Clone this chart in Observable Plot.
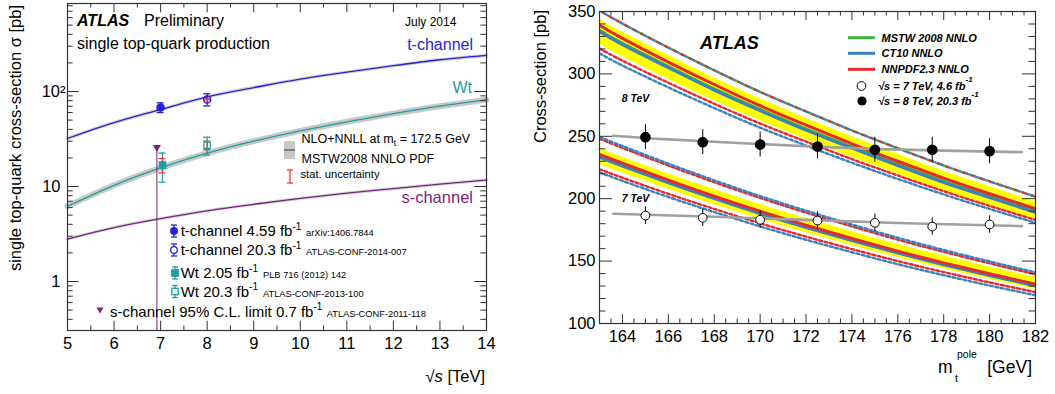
<!DOCTYPE html>
<html><head><meta charset="utf-8">
<script src="https://cdn.jsdelivr.net/npm/d3@7"></script>
<script src="https://cdn.jsdelivr.net/npm/@observablehq/plot@0.6"></script>
<style>
body{margin:0;background:#fff;}
#wrap{position:relative;width:1055px;height:394px;overflow:hidden;background:#fff;}
#left{position:absolute;left:0;top:0;}
#right{position:absolute;left:520px;top:0;}
</style></head><body><div id="wrap"><div id="left"></div><div id="right"></div></div>
<script>
// ---------------- LEFT PANEL DATA ----------------
const energies = [5, 6, 7, 8, 9, 10, 11, 12, 13, 14];
const tChannelTheory = [32, 47, 64.6, 87.8, 110, 135, 160, 187, 216, 240];
const wtTheory = [6.2, 10.3, 15.7, 22.4, 30, 38.5, 48, 58.5, 70, 82];
const sChannelTheory = [2.8, 3.7, 4.6, 5.55, 6.5, 7.5, 8.5, 9.5, 10.6, 11.7];

const measNames = ["t-channel 4.59 fb-1", "t-channel 20.3 fb-1", "Wt 2.05 fb-1", "Wt 20.3 fb-1"];
const measEnergy = [7.0, 8.0, 7.04, 8.0];
const measXsec = [68, 82.6, 16.8, 27.2];
const measTotLo = [60, 70.6, 11.1, 21.4];
const measTotHi = [76, 94.6, 22.5, 33.0];
const measStatLo = [66, 81.4, 13.9, 24.4];
const measStatHi = [70, 83.8, 19.7, 30.0];
const sLimitEnergy = 6.92;
const sLimitXsec = 26.5;

const xMajorL = [5, 6, 7, 8, 9, 10, 11, 12, 13, 14];
const xMinorL = [5.5, 6.5, 7.5, 8.5, 9.5, 10.5, 11.5, 12.5, 13.5];
const yMajorL = [1, 10, 100];
const yMinorL = [0.4,0.5,0.6,0.7,0.8,0.9,2,3,4,5,6,7,8,9,20,30,40,50,60,70,80,90,200,300,400,500,600,700,800];
const yDomL = [0.305, 844];

// ---------------- RIGHT PANEL DATA ----------------
const massGrid = [163, 164, 166, 168, 170, 172, 174, 176, 178, 180, 182];
const nnpdf8 = [339, 328.5, 309.5, 291.5, 274.5, 259, 244, 230, 216.5, 204, 192];
const ct10_8 = [334, 323.5, 305, 287, 270.5, 255, 240.5, 226.5, 213, 201, 189];
const mstw8 = [335, 324.5, 306, 288, 271.5, 256, 241.5, 227.5, 214, 202, 190];
const scale8Lo = [324, 313.8, 295.9, 278.4, 262.4, 247.4, 233.3, 219.7, 206.6, 195, 183.3];
const scale8Hi = [344, 333.5, 314.9, 296.7, 280.1, 264.5, 249.8, 235.6, 221.9, 209.7, 197.5];
const pdf8Up = [350.9, 340.3, 321.1, 302.9, 285.6, 269.9, 254.7, 240.4, 226.6, 213.9, 201.6];
const nnpdf8Down = [320.4, 310.6, 292.9, 276.1, 260.2, 245.7, 231.7, 218.6, 206.0, 194.2, 183.0];
const ct10_8Down = [316.5, 306.7, 289.2, 272.6, 256.9, 242.6, 228.8, 215.8, 203.4, 191.8, 180.7];

const nnpdf7 = [235.6, 228.5, 214.9, 202.1, 190.0, 178.7, 168.1, 158.0, 148.6, 139.8, 131.5];
const ct10_7 = [233.2, 226.2, 212.8, 200.1, 188.1, 176.9, 166.4, 156.4, 147.1, 138.4, 130.2];
const mstw7 = [233.7, 226.7, 213.3, 200.6, 188.6, 177.4, 166.9, 156.9, 147.6, 138.9, 130.7];
const scale7Lo = [227.4, 220.5, 207.5, 195.2, 183.6, 172.8, 162.6, 152.9, 143.9, 135.4, 127.4];
const scale7Hi = [240.3, 233.3, 219.9, 207.3, 195.3, 184.1, 173.6, 163.5, 154.2, 145.3, 137.0];
const nnpdf7Up = [248.1, 240.7, 226.6, 213.2, 200.6, 188.9, 177.8, 167.2, 157.4, 148.2, 139.5];
const ct10_7Up = [249.6, 242.2, 228.1, 214.7, 202.1, 190.4, 179.3, 168.7, 158.9, 149.7, 141.0];
const nnpdf7Down = [223.6, 216.8, 203.9, 191.8, 180.3, 169.6, 159.6, 150.0, 141.2, 132.9, 125.1];
const ct10_7Down = [221.1, 214.3, 201.4, 189.3, 177.8, 167.1, 157.1, 147.5, 138.7, 130.4, 122.6];

const massPoints = [165, 167.5, 170, 172.5, 175, 177.5, 180];
const xsec8 = [249.3, 245.3, 243.4, 241.8, 239.2, 239.2, 238.1];
const err8 = [10, 10, 10, 10, 10, 10, 10];
const xsec7 = [186.5, 184.7, 183.1, 182.5, 180.7, 177.7, 179.3];
const err7 = [7, 7, 7, 7, 7, 7, 7];
const fitMass8 = [163.6, 166, 170, 174, 178, 181.4];
const fit8 = [250.5, 247.5, 243.8, 240.5, 238.5, 237.3];
const fitMass7 = [163.6, 168, 172, 176, 181.4];
const fit7 = [188, 185.5, 183, 180.5, 178];

const xMajorR = [164, 166, 168, 170, 172, 174, 176, 178, 180, 182];
const yMajorR = [100, 150, 200, 250, 300, 350];

// ---------------- STYLE ----------------
const FONT = "Liberation Sans, Arial, Helvetica, sans-serif";
const BLUE = "#2424d4", TEAL = "#1f9f9f", PURPLE = "#7a1f86", STATRED = "#f03c3c";
const YEL = "#ffff00", GRN = "#3cb43c", CBLUE = "#3a80c2", NRED = "#e32b2b";
const FR = "#333";

function label(svg, x, y, parts, o = {}) {
  const t = d3.select(svg).append("text")
    .attr("x", x).attr("y", y)
    .attr("font-family", FONT)
    .attr("font-size", o.size ?? 16)
    .attr("fill", o.fill ?? "#000")
    .attr("text-anchor", o.anchor ?? "start")
    .attr("font-weight", o.bold ? "bold" : "normal")
    .attr("font-style", o.italic ? "italic" : "normal");
  if (o.rotate) t.attr("transform", `rotate(${o.rotate} ${x} ${y})`);
  for (const p of [].concat(parts)) {
    const s = t.append("tspan");
    if (typeof p === "string") s.text(p);
    else {
      s.text(p.t);
      if (p.dy != null) s.attr("dy", p.dy);
      if (p.dx != null) s.attr("dx", p.dx);
      if (p.size) s.attr("font-size", p.size);
      if (p.italic) s.attr("font-style", "italic");
    }
  }
  return t;
}

// ---------------- LEFT PLOT ----------------
const WL = 520, HL = 394, mlL = 67, mrL = 34, mtL = 3, mbL = 64;
const FWL = WL - mlL - mrL, FHL = HL - mtL - mbL;
const meas = measEnergy.map((x, i) => ({x, v: measXsec[i], lo: measTotLo[i], hi: measTotHi[i], slo: measStatLo[i], shi: measStatHi[i], name: measNames[i]}));
const mColor = d => (d.name.startsWith("t-") ? BLUE : TEAL);

const leftPlot = Plot.plot({
  width: WL, height: HL,
  marginLeft: mlL, marginRight: mrL, marginTop: mtL, marginBottom: mbL,
  x: {domain: [5, 14]},
  y: {type: "log", domain: yDomL},
  style: {fontFamily: FONT, fontSize: "16.5px", color: "#000", background: "transparent"},
  marks: [
    Plot.lineY(tChannelTheory, {x: energies, stroke: "#d2d2d2", strokeWidth: 3.5, curve: "natural"}),
    Plot.lineY(wtTheory, {x: energies, stroke: "#c8c8c8", strokeWidth: 6, curve: "natural"}),
    Plot.lineY(sChannelTheory, {x: energies, stroke: "#d6d6d6", strokeWidth: 3.2, curve: "natural"}),
    Plot.lineY(tChannelTheory, {x: energies, stroke: BLUE, strokeWidth: 1.3, curve: "natural"}),
    Plot.lineY(wtTheory, {x: energies, stroke: TEAL, strokeWidth: 1.3, curve: "natural"}),
    Plot.lineY(sChannelTheory, {x: energies, stroke: PURPLE, strokeWidth: 1.3, curve: "natural"}),
    Plot.ruleX([0], {x: [sLimitEnergy], y1: [sLimitXsec], y2: [yDomL[0]], stroke: PURPLE, strokeWidth: 1}),
    Plot.dot([0], {x: [sLimitEnergy], y: [sLimitXsec], symbol: "triangle", rotate: 180, fill: PURPLE, r: 3, dy: 1}),
    Plot.ruleX(meas, {x: "x", y1: "lo", y2: "hi", stroke: mColor, strokeWidth: 1.3}),
    Plot.ruleY(meas, {y: "lo", x1: "x", x2: "x", insetLeft: -3.5, insetRight: -3.5, stroke: mColor, strokeWidth: 1.3}),
    Plot.ruleY(meas, {y: "hi", x1: "x", x2: "x", insetLeft: -3.5, insetRight: -3.5, stroke: mColor, strokeWidth: 1.3}),
    Plot.ruleX(meas, {x: "x", y1: "slo", y2: "shi", stroke: STATRED, strokeWidth: 1.3}),
    Plot.ruleY(meas, {y: "slo", x1: "x", x2: "x", insetLeft: -3.5, insetRight: -3.5, stroke: STATRED, strokeWidth: 1.3}),
    Plot.ruleY(meas, {y: "shi", x1: "x", x2: "x", insetLeft: -3.5, insetRight: -3.5, stroke: STATRED, strokeWidth: 1.3}),
    Plot.dot(meas, {x: "x", y: "v", r: 3.6,
      symbol: d => (d.name.startsWith("t-") ? "circle" : "square"),
      fill: d => (d.name.includes("20.3") ? "none" : mColor(d)),
      stroke: mColor, strokeWidth: 1.3}),
    Plot.ruleX(xMajorL, {insetTop: FHL - 9.3, stroke: FR}),
    Plot.ruleX(xMinorL, {insetTop: FHL - 4.5, stroke: FR}),
    Plot.ruleX(xMajorL, {insetBottom: FHL - 9.3, stroke: FR}),
    Plot.ruleX(xMinorL, {insetBottom: FHL - 4.5, stroke: FR}),
    Plot.ruleY(yMajorL, {insetRight: FWL - 11.7, stroke: FR}),
    Plot.ruleY(yMinorL, {insetRight: FWL - 5.7, stroke: FR}),
    Plot.ruleY(yMajorL, {insetLeft: FWL - 11.7, stroke: FR}),
    Plot.ruleY(yMinorL, {insetLeft: FWL - 5.7, stroke: FR}),
    Plot.frame({stroke: FR, strokeWidth: 1.2}),
    Plot.axisX(xMajorL, {tickSize: 0, tickPadding: 7, label: null, fontSize: 16.5}),
    Plot.axisY([1, 10], {tickSize: 0, tickPadding: 7, label: null, fontSize: 16.5, tickFormat: d => String(d)}),
    Plot.axisY([100], {tickSize: 0, tickPadding: 2, label: null, fontSize: 16.5, tickFormat: () => "10²"})
  ]
});
document.getElementById("left").appendChild(leftPlot);

label(leftPlot, 77, 26, "ATLAS", {size: 16, bold: true, italic: true});
label(leftPlot, 144, 26, "Preliminary", {size: 16});
label(leftPlot, 405, 26, "July 2014", {size: 12});
label(leftPlot, 77, 49, "single top-quark production", {size: 16});
label(leftPlot, 473, 50, "t-channel", {size: 16, fill: BLUE, anchor: "end"});
label(leftPlot, 472, 93, "Wt", {size: 16, fill: TEAL, anchor: "end"});
label(leftPlot, 473, 203, "s-channel", {size: 16.5, fill: PURPLE, anchor: "end"});
label(leftPlot, 301.5, 143.3, ["NLO+NNLL at m", {t: "t", dy: 3, size: 8.5}, {t: " = 172.5 GeV", dy: -3}], {size: 12.5});
label(leftPlot, 301.5, 162.7, "MSTW2008 NNLO PDF", {size: 12.5});
label(leftPlot, 300.5, 178.3, "stat. uncertainty", {size: 11.2});
const legL = [
  {y: 236, main: "t-channel 4.59 fb", ref: "arXiv:1406.7844", refX: 306},
  {y: 255, main: "t-channel 20.3 fb", ref: "ATLAS-CONF-2014-007", refX: 306},
  {y: 278.3, main: "Wt 2.05 fb", ref: "PLB 716 (2012) 142", refX: 263},
  {y: 296.7, main: "Wt 20.3 fb", ref: "ATLAS-CONF-2013-100", refX: 263}
];
for (const e of legL) {
  label(leftPlot, 180.7, e.y, [e.main, {t: "-1", dy: -6.5, size: 10}], {size: 15});
  label(leftPlot, e.refX, e.y, e.ref, {size: 9.3});
}
label(leftPlot, 110, 316.5, ["s-channel 95% C.L. limit 0.7 fb", {t: "-1", dy: -6.5, size: 10}], {size: 15});
label(leftPlot, 326.7, 316.5, "ATLAS-CONF-2011-118", {size: 9.3});
{
  const g = d3.select(leftPlot).append("g");
  const sym = [
    {x: 174, y: 231, c: BLUE, shape: "c", filled: true},
    {x: 174, y: 250, c: BLUE, shape: "c", filled: false},
    {x: 175, y: 273, c: TEAL, shape: "s", filled: true},
    {x: 175, y: 291.5, c: TEAL, shape: "s", filled: false}
  ];
  for (const s of sym) {
    g.append("line").attr("x1", s.x).attr("x2", s.x).attr("y1", s.y - 6).attr("y2", s.y + 6).attr("stroke", s.c).attr("stroke-width", 1.3);
    for (const yy of [s.y - 6, s.y + 6]) g.append("line").attr("x1", s.x - 3).attr("x2", s.x + 3).attr("y1", yy).attr("y2", yy).attr("stroke", s.c).attr("stroke-width", 1.3);
    if (s.shape === "c") g.append("circle").attr("cx", s.x).attr("cy", s.y).attr("r", 3.3).attr("fill", s.filled ? s.c : "white").attr("stroke", s.c).attr("stroke-width", 1.3);
    else g.append("rect").attr("x", s.x - 3.2).attr("y", s.y - 3.2).attr("width", 6.4).attr("height", 6.4).attr("fill", s.filled ? s.c : "white").attr("stroke", s.c).attr("stroke-width", 1.3);
  }
  g.append("path").attr("d", "M96.5,307.5 L103.5,307.5 L100,313.5 Z").attr("fill", PURPLE);
  g.append("rect").attr("x", 284).attr("y", 141).attr("width", 11).attr("height", 18).attr("fill", "#c8c8c8");
  g.append("line").attr("x1", 284).attr("x2", 295).attr("y1", 150).attr("y2", 150).attr("stroke", "#555").attr("stroke-width", 1.3);
  g.append("line").attr("x1", 290).attr("x2", 290).attr("y1", 170).attr("y2", 183).attr("stroke", STATRED).attr("stroke-width", 1.3);
  for (const yy of [170, 183]) g.append("line").attr("x1", 287).attr("x2", 293).attr("y1", yy).attr("y2", yy).attr("stroke", STATRED).attr("stroke-width", 1.3);
}
label(leftPlot, 485, 382, ["√", {t: "s", italic: true}, " [TeV]"], {size: 16.5, anchor: "end"});
label(leftPlot, 21, 5, "single top-quark cross-section σ [pb]", {size: 16.5, anchor: "end", rotate: -90});

// ---------------- RIGHT PLOT ----------------
const WR = 535, HR = 394, mlR = 79, mrR = 20, mtR = 11, mbR = 71;
const FWR = WR - mlR - mrR, FHR = HR - mtR - mbR;
const xMinorR = d3.range(163, 182.01, 0.5).filter(v => !xMajorR.includes(v));
const yMinorR = d3.range(100, 350.1, 10).filter(v => !yMajorR.includes(v));
const dash = (y, stroke, off, arr = "3,6") =>
  Plot.lineY(y, {x: massGrid, stroke, strokeWidth: 2.4, strokeDasharray: arr, strokeDashoffset: off, curve: "natural", clip: true});
const lo8 = xsec8.map((v, i) => v - err8[i]), hi8 = xsec8.map((v, i) => v + err8[i]);
const lo7 = xsec7.map((v, i) => v - err7[i]), hi7 = xsec7.map((v, i) => v + err7[i]);

const rightPlot = Plot.plot({
  width: WR, height: HR,
  marginLeft: mlR, marginRight: mrR, marginTop: mtR, marginBottom: mbR,
  x: {domain: [163, 182]},
  y: {domain: [100, 350]},
  style: {fontFamily: FONT, fontSize: "16.5px", color: "#000", background: "transparent"},
  marks: [
    Plot.areaY(massGrid, {x: massGrid, y1: scale8Lo, y2: scale8Hi, fill: YEL, curve: "natural", clip: true}),
    Plot.areaY(massGrid, {x: massGrid, y1: scale7Lo, y2: scale7Hi, fill: YEL, curve: "natural", clip: true}),
    dash(pdf8Up, GRN, 0), dash(pdf8Up, NRED, -3), dash(pdf8Up, CBLUE, -6, "2,7"),
    dash(nnpdf8Down, NRED, 0, "3,2.5"), dash(ct10_8Down, CBLUE, 0, "3,2.5"),
    dash(nnpdf7Up, NRED, 0, "3,2.5"), dash(ct10_7Up, CBLUE, 0, "3,2.5"),
    dash(nnpdf7Down, NRED, 0, "3,2.5"), dash(ct10_7Down, CBLUE, 0, "3,2.5"),
    Plot.lineY(mstw8, {x: massGrid, stroke: GRN, strokeWidth: 3, curve: "natural", clip: true}),
    Plot.lineY(ct10_8, {x: massGrid, stroke: CBLUE, strokeWidth: 3, curve: "natural", clip: true}),
    Plot.lineY(nnpdf8, {x: massGrid, stroke: NRED, strokeWidth: 3, curve: "natural", clip: true}),
    Plot.lineY(mstw7, {x: massGrid, stroke: GRN, strokeWidth: 3, curve: "natural", clip: true}),
    Plot.lineY(ct10_7, {x: massGrid, stroke: CBLUE, strokeWidth: 3, curve: "natural", clip: true}),
    Plot.lineY(nnpdf7, {x: massGrid, stroke: NRED, strokeWidth: 3, curve: "natural", clip: true}),
    Plot.lineY(fit8, {x: fitMass8, stroke: "#a0a0a0", strokeWidth: 2.6, curve: "natural"}),
    Plot.lineY(fit7, {x: fitMass7, stroke: "#a0a0a0", strokeWidth: 2.6, curve: "natural"}),
    Plot.ruleX(massPoints, {x: massPoints, y1: lo8, y2: hi8, stroke: "#000", strokeWidth: 1}),
    Plot.ruleX(massPoints, {x: massPoints, y1: lo7, y2: hi7, stroke: "#000", strokeWidth: 1}),
    Plot.dot(massPoints, {x: massPoints, y: xsec8, r: 4.6, fill: "#000", stroke: "#000"}),
    Plot.dot(massPoints, {x: massPoints, y: xsec7, r: 4.4, fill: "white", stroke: "#000", strokeWidth: 1}),
    Plot.ruleX(xMajorR, {insetTop: FHR - 9, stroke: FR}),
    Plot.ruleX(xMinorR, {insetTop: FHR - 4.5, stroke: FR}),
    Plot.ruleX(xMajorR, {insetBottom: FHR - 9, stroke: FR}),
    Plot.ruleX(xMinorR, {insetBottom: FHR - 4.5, stroke: FR}),
    Plot.ruleY(yMajorR, {insetRight: FWR - 13, stroke: FR}),
    Plot.ruleY(yMinorR, {insetRight: FWR - 6.5, stroke: FR}),
    Plot.ruleY(yMajorR, {insetLeft: FWR - 13, stroke: FR}),
    Plot.ruleY(yMinorR, {insetLeft: FWR - 6.5, stroke: FR}),
    Plot.frame({stroke: FR, strokeWidth: 1.2}),
    Plot.axisX(xMajorR, {tickSize: 0, tickPadding: 7, label: null, fontSize: 16.5}),
    Plot.axisY(yMajorR, {tickSize: 0, tickPadding: 4, label: null, fontSize: 16.5})
  ]
});
document.getElementById("right").appendChild(rightPlot);

label(rightPlot, 180, 49, "ATLAS", {size: 18, bold: true, italic: true});
{
  const g = d3.select(rightPlot).append("g");
  [[37.7, GRN], [53.3, CBLUE], [69.3, NRED]].forEach(([y, c]) =>
    g.append("line").attr("x1", 328).attr("x2", 355).attr("y1", y).attr("y2", y).attr("stroke", c).attr("stroke-width", 3));
  g.append("circle").attr("cx", 341.5).attr("cy", 86).attr("r", 4.4).attr("fill", "white").attr("stroke", "#000");
  g.append("circle").attr("cx", 342).attr("cy", 101).attr("r", 4.6).attr("fill", "#000");
}
label(rightPlot, 361.5, 41.5, "MSTW 2008 NNLO", {size: 11, bold: true, italic: true});
label(rightPlot, 361.5, 57, "CT10 NNLO", {size: 11, bold: true, italic: true});
label(rightPlot, 361.5, 73, "NNPDF2.3 NNLO", {size: 11, bold: true, italic: true});
label(rightPlot, 358, 90, ["√s = 7 TeV, 4.6 fb", {t: "-1", dy: -8, size: 8}], {size: 11, bold: true, italic: true});
label(rightPlot, 358, 105, ["√s = 8 TeV, 20.3 fb", {t: "-1", dy: -8, size: 8}], {size: 11, bold: true, italic: true});
label(rightPlot, 101.7, 101.7, "8 TeV", {size: 10.5, bold: true, italic: true});
label(rightPlot, 101.7, 201.7, "7 TeV", {size: 10.5, bold: true, italic: true});
label(rightPlot, 26, 10, "Cross-section [pb]", {size: 16.5, anchor: "end", rotate: -90});
label(rightPlot, 418, 373, "m", {size: 17.5});
label(rightPlot, 435, 382, "t", {size: 10.5});
label(rightPlot, 437, 358, "pole", {size: 10.5});
label(rightPlot, 512, 373, "[GeV]", {size: 17.5, anchor: "end"});
</script></body></html>
